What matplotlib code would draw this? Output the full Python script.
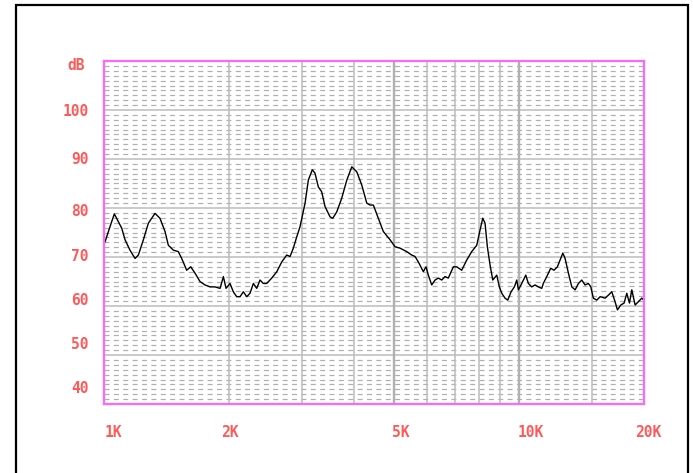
import matplotlib
matplotlib.use("Agg")
import matplotlib.pyplot as plt
from matplotlib.patches import Rectangle
import numpy as np

# response curve (Hz, dB)
freq = [1006, 1034, 1059, 1083, 1103, 1124, 1155, 1188, 1210, 1244, 1279, 1327,
        1364, 1403, 1429, 1469, 1510, 1539, 1582, 1618, 1657, 1703, 1751, 1801,
        1851, 1904, 1939, 1968, 2012, 2049, 2088, 2127, 2166, 2208, 2248, 2290,
        2333, 2376, 2420, 2466, 2536, 2608, 2681, 2756, 2807, 2858, 2913, 2967,
        3051, 3107, 3176, 3224, 3284, 3346, 3408, 3504, 3557, 3637, 3739, 3846,
        3954, 4064, 4178, 4296, 4375, 4456, 4581, 4710, 4890, 5026, 5168, 5362,
        5513, 5615, 5719, 5880, 5969, 6045, 6160, 6275, 6391, 6512, 6633, 6755,
        6945, 7077, 7276, 7482, 7691, 7908, 8054, 8176, 8281, 8387, 8513, 8642,
        8837, 8964, 9085, 9253, 9393, 9566, 9743, 9874, 9963, 10150, 10380, 10530,
        10730, 10930, 11130, 11340, 11440, 11660, 11920, 12140, 12370, 12560, 12750,
        12910, 13150, 13400, 13650, 13900, 14160, 14420, 14690, 14890, 15100, 15390,
        15680, 16120, 16410, 16730, 17030, 17260, 17580, 17910, 18180, 18450, 18690,
        19040, 19390, 19760, 20000]
level = [73.1, 76.2, 78.8, 77.2, 75.9, 73.5, 71.4, 69.7, 70.4, 73.5, 76.9, 78.9,
         77.9, 75.2, 72.4, 71.4, 71.1, 69.7, 67.3, 68.0, 66.7, 65.0, 64.3, 63.9,
         63.9, 63.6, 66.0, 63.6, 64.6, 62.9, 61.9, 61.9, 62.9, 61.9, 62.6, 64.6,
         63.6, 65.3, 64.6, 64.6, 65.7, 67.0, 69.0, 70.4, 70.1, 71.8, 74.1, 76.2,
         81.0, 85.7, 87.8, 87.1, 84.3, 83.3, 80.3, 78.2, 77.9, 79.2, 82.0, 85.7,
         88.4, 87.4, 84.7, 81.0, 80.6, 80.6, 77.9, 75.2, 73.5, 72.1, 71.8, 71.1,
         70.4, 70.1, 69.0, 67.0, 68.0, 66.3, 64.3, 65.3, 65.7, 65.3, 66.0, 65.7,
         68.0, 68.0, 67.3, 69.4, 71.1, 72.4, 75.5, 77.9, 76.9, 72.1, 68.4, 65.3,
         66.3, 63.9, 62.6, 61.6, 61.2, 62.9, 63.9, 65.3, 63.3, 64.6, 66.3, 64.6,
         63.9, 64.3, 63.9, 63.6, 64.6, 66.0, 67.7, 67.3, 68.0, 69.4, 70.8,
         69.7, 66.7, 63.9, 63.3, 64.6, 65.3, 64.3, 64.6, 63.9, 61.6, 61.2,
         61.9, 61.6, 62.2, 62.9, 60.9, 59.2, 60.2, 60.6, 62.6, 60.6, 63.3,
         60.2, 60.9, 61.6, 61.2]

y_labels = ["100", "90", "80", "70", "60", "50", "40"]
y_label_pos = [99.6, 89.8, 79.2, 70.2, 61.2, 52.1, 43.2]
x_labels = ["1K", "2K", "5K", "10K", "20K"]
x_label_pos = [1054, 2006, 5197, 10690, 20510]
major_v = [2000, 3000, 4000, 6000, 7000, 8000, 9000, 15000]
heavy_v = [5000, 10000]

txt_color = "#ff5a5a"
pink = "#ff66ff"
font = dict(family="DejaVu Sans Mono", weight="bold", size=10.5, color=txt_color)

fig = plt.figure(figsize=(6.93, 4.73), dpi=100)
ax = fig.add_axes([104 / 693, 1 - 404 / 473, 540 / 693, 343 / 473])
ax.set_xscale("log")
ax.set_xlim(1000, 20000)
ax.set_ylim(40, 110)

# fine dashed grid, one line per dB
for v in range(41, 110):
    if v % 10:
        ax.axhline(v, color="#b0b0b0", lw=0.9, ls=(0, (4.0, 3.5)), zorder=1)
for v in range(50, 110, 10):
    ax.axhline(v, color="#bcbcbc", lw=1.1, zorder=2)
for f in major_v:
    ax.axvline(f, color="#bcbcbc", lw=1.1, zorder=2)
for f in heavy_v:
    ax.axvline(f, color="#b0b0b0", lw=1.7, zorder=2)

ax.plot(freq, level, color="black", lw=1.0, zorder=3)

ax.set_xticks([])
ax.set_yticks([])
ax.minorticks_off()
for s in ax.spines.values():
    s.set_color(pink)
    s.set_linewidth(1.6)
    s.set_zorder(4)

for lab, v in zip(y_labels, y_label_pos):
    ax.text(-0.028, v, lab, transform=ax.get_yaxis_transform(),
            ha="right", va="center", **font)
ax.text(-0.035, 109.0, "dB", transform=ax.get_yaxis_transform(),
        ha="right", va="center", **font)
for lab, f in zip(x_labels, x_label_pos):
    ax.text(f, -0.082, lab, transform=ax.get_xaxis_transform(),
            ha="center", va="center", clip_on=False, **font)

# outer black frame
fig.patches.append(Rectangle((16 / 693, -0.05), 672 / 693, 1.05 - 5 / 473,
                             transform=fig.transFigure, fill=False,
                             edgecolor="black", lw=1.6))

fig.savefig("out.png", dpi=100)
